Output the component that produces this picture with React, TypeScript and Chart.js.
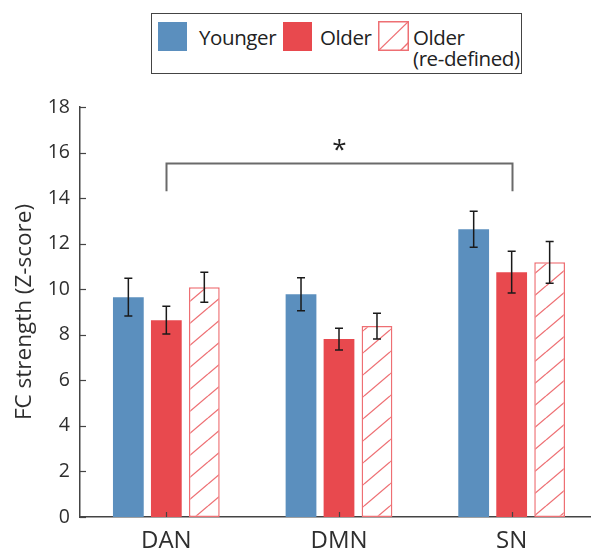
import React, { useEffect, useRef } from 'react';
import { Chart, registerables } from 'chart.js';

Chart.register(...registerables);

// ---- data ----
const categories = ['DAN', 'DMN', 'SN'];
const youngerValues = [9.65, 9.78, 12.63];
const youngerErrors = [0.83, 0.72, 0.79];
const olderValues = [8.64, 7.81, 10.75];
const olderErrors = [0.61, 0.48, 0.92];
const redefinedValues = [10.09, 8.38, 11.18];
const redefinedErrors = [0.66, 0.57, 0.92];
const seriesNames = ['Younger', 'Older', 'Older (re-defined)'];
const yMin = 0;
const yMax = 18;
const yStep = 2;
const yTitle = 'FC strength (Z-score)';
const bracketFrom = 0;
const bracketTo = 2;
const bracketTop = 15.55;
const bracketLeg = 14.3;
const starValue = 16.3;
const starText = '*';

// ---- style ----
const BLUE = '#5b8fbe';
const RED = '#e8494e';
const HATCH = '#ee6f73';
const INK = '#2e2e2e';
const AXIS = '#444444';
const FONT = '"Open Sans", sans-serif';

function makeHatch(): CanvasPattern | string {
  const c = document.createElement('canvas');
  c.width = 26;
  c.height = 22;
  const g = c.getContext('2d');
  if (!g) return HATCH;
  g.fillStyle = '#ffffff';
  g.fillRect(0, 0, 26, 22);
  g.strokeStyle = HATCH;
  g.lineWidth = 1.3;
  for (const k of [-1, 0, 1]) {
    g.beginPath();
    g.moveTo(0, 22 + 22 * k);
    g.lineTo(26, 22 * k);
    g.stroke();
  }
  return g.createPattern(c, 'repeat') || HATCH;
}

const overlayPlugin = {
  id: 'overlay',
  afterDatasetsDraw(chart: any) {
    const { ctx, chartArea } = chart;
    const x = chart.scales.x;
    const y = chart.scales.y;
    const vals = [youngerValues, olderValues, redefinedValues];
    const errs = [youngerErrors, olderErrors, redefinedErrors];
    ctx.save();
    // error bars
    ctx.strokeStyle = '#1a1a1a';
    ctx.lineWidth = 1.5;
    errs.forEach((e, i) => {
      const meta = chart.getDatasetMeta(i);
      meta.data.forEach((bar: any, j: number) => {
        const cx = bar.x;
        const t = y.getPixelForValue(vals[i][j] + e[j]);
        const b = y.getPixelForValue(vals[i][j] - e[j]);
        ctx.beginPath();
        ctx.moveTo(cx, t);
        ctx.lineTo(cx, b);
        ctx.moveTo(cx - 4, t);
        ctx.lineTo(cx + 4, t);
        ctx.moveTo(cx - 4, b);
        ctx.lineTo(cx + 4, b);
        ctx.stroke();
      });
    });
    // inward tick marks
    ctx.strokeStyle = AXIS;
    ctx.lineWidth = 1.2;
    y.ticks.forEach((t: any) => {
      const py = Math.round(y.getPixelForValue(t.value)) + 0.5;
      ctx.beginPath();
      ctx.moveTo(chartArea.left, py);
      ctx.lineTo(chartArea.left + 6, py);
      ctx.stroke();
    });
    categories.forEach((_, j) => {
      const px = Math.round(x.getPixelForValue(j)) + 0.5;
      ctx.beginPath();
      ctx.moveTo(px, chartArea.bottom);
      ctx.lineTo(px, chartArea.bottom - 5);
      ctx.stroke();
    });
    // significance bracket
    const x0 = Math.round(x.getPixelForValue(bracketFrom)) + 0.5;
    const x1 = Math.round(x.getPixelForValue(bracketTo)) + 0.5;
    const yt = Math.round(y.getPixelForValue(bracketTop)) + 0.5;
    const yl = y.getPixelForValue(bracketLeg);
    ctx.strokeStyle = '#6a6a6a';
    ctx.lineWidth = 2;
    ctx.beginPath();
    ctx.moveTo(x0, yl);
    ctx.lineTo(x0, yt);
    ctx.lineTo(x1, yt);
    ctx.lineTo(x1, yl);
    ctx.stroke();
    ctx.fillStyle = '#222222';
    ctx.font = `26px ${FONT}`;
    ctx.textAlign = 'center';
    ctx.textBaseline = 'alphabetic';
    ctx.fillText(starText, (x0 + x1) / 2, y.getPixelForValue(starValue) + 12);
    ctx.restore();
  },
};

function HatchSwatch() {
  return (
    <svg width={31} height={30} style={{ position: 'absolute', left: 378, top: 21 }}>
      <defs>
        <clipPath id="swclip">
          <rect x={1} y={1} width={29} height={28} />
        </clipPath>
      </defs>
      <rect x={0} y={0} width={31} height={30} fill="#fff" />
      <g clipPath="url(#swclip)" stroke={HATCH} strokeWidth={1.3}>
        <line x1={0} y1={30} x2={31} y2={0} />
        <line x1={18} y1={34} x2={40} y2={12} />
      </g>
      <rect x={0.75} y={0.75} width={29.5} height={28.5} fill="none" stroke={HATCH} strokeWidth={1.5} />
    </svg>
  );
}

export default function App() {
  const canvasRef = useRef<HTMLCanvasElement | null>(null);

  useEffect(() => {
    const canvas = canvasRef.current;
    if (!canvas) return;
    const hatch = makeHatch();
    const chart = new Chart(canvas, {
      type: 'bar',
      data: {
        labels: categories,
        datasets: [
          { label: seriesNames[0], data: youngerValues, backgroundColor: BLUE, borderWidth: 0 },
          { label: seriesNames[1], data: olderValues, backgroundColor: RED, borderWidth: 0 },
          {
            label: seriesNames[2],
            data: redefinedValues,
            backgroundColor: hatch as any,
            borderColor: HATCH,
            borderWidth: 1.5,
            borderSkipped: false,
          },
        ],
      },
      options: {
        responsive: false,
        animation: false,
        devicePixelRatio: 1,
        layout: { padding: { left: 0, right: 0, top: 107, bottom: 0 } },
        datasets: { bar: { categoryPercentage: 0.66, barPercentage: 0.81 } },
        plugins: { legend: { display: false }, tooltip: { enabled: false }, title: { display: false } },
        scales: {
          x: {
            type: 'category',
            offset: true,
            z: 1,
            grid: { display: false, drawTicks: false },
            border: { display: true, color: AXIS, width: 1.5 },
            ticks: { color: INK, font: { family: FONT, size: 24 }, padding: 10 },
            afterFit: (s: any) => {
              s.height = 35;
            },
          },
          y: {
            min: yMin,
            max: yMax,
            z: 1,
            grid: { display: false, drawTicks: false },
            border: { display: true, color: AXIS, width: 1.5 },
            ticks: { stepSize: yStep, color: INK, font: { family: FONT, size: 19.5 }, padding: 10 },
            title: {
              display: true,
              text: yTitle,
              color: INK,
              font: { family: FONT, size: 22.5 },
              padding: { top: 11, bottom: 0 },
            },
            afterFit: (s: any) => {
              s.width = 80;
            },
          },
        },
      } as any,
      plugins: [overlayPlugin],
    });
    return () => chart.destroy();
  }, []);

  const text: React.CSSProperties = {
    position: 'absolute',
    fontFamily: FONT,
    fontSize: 20.5,
    letterSpacing: '-0.4px',
    lineHeight: '21px',
    color: '#222',
    whiteSpace: 'nowrap',
  };

  return (
    <div
      style={{
        position: 'fixed',
        left: 0,
        top: 0,
        width: 591,
        height: 552,
        overflow: 'hidden',
        background: '#fff',
      }}
    >
      <canvas ref={canvasRef} width={598} height={552} style={{ position: 'absolute', left: 0, top: 0 }} />
      <div
        style={{
          position: 'absolute',
          left: 151,
          top: 13,
          width: 371,
          height: 61,
          boxSizing: 'border-box',
          border: `1.5px solid ${AXIS}`,
          background: '#fff',
        }}
      />
      <div style={{ position: 'absolute', left: 158, top: 22, width: 29, height: 29, background: BLUE }} />
      <div style={{ ...text, left: 199, top: 27 }}>{seriesNames[0]}</div>
      <div style={{ position: 'absolute', left: 283, top: 22, width: 29, height: 29, background: RED }} />
      <div style={{ ...text, left: 320, top: 27 }}>{seriesNames[1]}</div>
      <HatchSwatch />
      <div style={{ ...text, left: 413, top: 27 }}>
        Older
        <br />
        (re-defined)
      </div>
    </div>
  );
}
